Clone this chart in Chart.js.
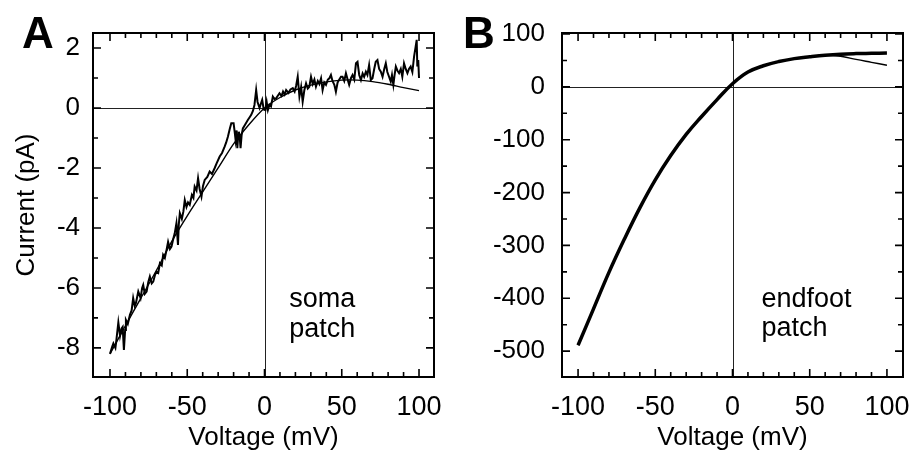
<!DOCTYPE html>
<html lang="en">
<head>
<meta charset="utf-8" />
<script src="https://cdn.jsdelivr.net/npm/chart.js@4.4.1/dist/chart.umd.min.js"></script>
<title>Current-voltage relations</title>
<style>
  body { margin: 0; background: #fff; }
  #wrap { position: relative; width: 912px; height: 453px; }
  canvas { position: absolute; top: 0; }
</style>
</head>
<body>
<div id="wrap">
  <canvas id="graficoA" width="456" height="453" style="left:0"></canvas>
  <canvas id="graficoB" width="456" height="453" style="left:456px"></canvas>
</div>
<script>
// panel A, soma patch: raw trace (mV, pA)
const somaPts = [
  [-100,-8.2],[-98.5,-7.95],[-97.8,-7.85],[-96.5,-8.0],[-96,-7.8],[-94.6,-7.15],[-93.5,-7.6],[-92.5,-7.35],
  [-91.8,-7.3],[-91,-8.07],[-90.2,-7.4],[-89.7,-7.07],[-88.5,-7.2],[-87.1,-6.9],[-86,-6.75],[-85,-6.34],
  [-84,-6.6],[-83.2,-6.5],[-81.7,-6.12],[-80.2,-6.34],[-79.2,-6.0],[-78.5,-5.9],[-77.5,-6.2],[-76.3,-6.12],
  [-75.2,-5.8],[-74.2,-5.62],[-73,-5.85],[-72,-5.79],[-70.8,-5.55],[-69.9,-5.46],[-68.8,-5.5],[-67.7,-5.18],
  [-66.5,-5.25],[-65.6,-4.9],[-64.5,-5.0],[-63.4,-4.73],[-62.4,-4.46],[-61.2,-4.7],[-60.2,-4.62],[-59,-4.35],
  [-58.1,-4.18],[-57,-3.84],[-56,-4.57],[-55.5,-3.9],[-54.8,-3.51],[-53.5,-3.7],[-52.5,-3.45],[-51.6,-3.07],
  [-50.5,-3.3],[-49.5,-3.15],[-48.4,-3.23],[-47,-2.9],[-46,-3.0],[-45.2,-2.62],[-44,-2.75],[-43,-2.34],
  [-42,-2.7],[-40.8,-2.96],[-39.8,-2.6],[-38.7,-2.4],[-37,-2.3],[-35.5,-2.12],[-34,-2.2],[-32.3,-2.01],
  [-31,-1.85],[-29,-1.62],[-27.5,-1.5],[-25.8,-1.29],[-24.8,-1.15],[-23.7,-0.96],[-22.5,-0.7],[-21.5,-0.51],
  [-20,-0.51],[-19.3,-0.8],[-18.7,-1.07],[-18,-0.75],[-17.6,-1.34],[-17,-0.9],[-16.6,-0.79],[-16,-1.0],
  [-15.5,-1.34],[-14.8,-0.9],[-14,-0.68],[-12.5,-0.55],[-10.8,-0.4],[-9.5,-0.3],[-8.6,-0.23],[-7.5,-0.1],
  [-6.5,0.1],[-5.4,0.6],[-4.5,0.2],[-3.2,0.0],[-2.3,0.15],[-1.5,0.27],[-0.5,-0.05],[0.6,-0.07],
  [1.4,0.2],[2.2,-0.07],[3.2,0.1],[4.2,0.05],[5.4,0.38],[6.5,0.3],[7.5,0.32],[8.5,0.4],
  [9.7,0.49],[11,0.4],[12,0.55],[13,0.45],[14,0.6],[15.5,0.5],[16.8,0.62],[18.3,0.66],
  [19.5,0.55],[20.5,0.75],[21.5,1.04],[22.6,0.38],[23.7,0.7],[24.7,0.21],[25.8,0.6],[26.9,0.82],
  [28,0.65],[29,0.71],[30.1,1.04],[31.2,0.8],[32.3,0.95],[33.3,0.71],[34.5,0.9],[35.5,0.8],
  [36.6,0.99],[37.6,0.6],[38.7,0.85],[39.8,0.77],[41,0.95],[42,0.99],[43,1.1],[44,0.9],
  [45.2,0.77],[46.2,0.54],[47.3,0.85],[48.4,0.95],[49.5,1.04],[50.5,1.04],[51.6,0.9],[52.7,1.16],
  [53.8,0.95],[54.8,0.77],[56,1.0],[57,1.1],[58.1,0.95],[59.2,1.49],[60.2,1.54],[61.3,1.1],
  [62.4,0.93],[63.5,1.15],[64.5,1.04],[65.6,1.21],[66.6,1.1],[67.7,1.43],[68.8,0.93],[69.9,0.99],
  [71,1.3],[72,1.54],[73.1,1.6],[74.2,1.3],[75.3,1.21],[76.4,1.04],[77.5,1.3],[78.5,1.49],
  [79.5,1.2],[80.6,1.04],[81.7,0.88],[82.5,1.1],[83.4,0.77],[84.2,1.1],[85,1.38],[86,1.25],
  [87.1,1.16],[88.2,1.3],[89.2,1.04],[90.3,1.49],[91.4,1.3],[92.5,1.16],[93.5,1.3],[94.6,1.38],
  [95.7,1.2],[96.8,1.71],[97.8,2.04],[98.5,2.27],[98.9,1.38],[99.5,1.6],[100,1.0]
];
// fitted curve, panel A
const fitVolt = [-100,-90,-80,-70,-60,-50,-40,-30,-20,-10,0,10,20,30,40,50,60,70,80,90,100];
const somaFit = [-8.2,-7.26,-6.34,-5.42,-4.45,-3.6,-2.8,-2.0,-1.2,-0.55,0.0,0.35,0.6,0.76,0.87,0.93,0.93,0.88,0.79,0.68,0.58];

// panel B, endfoot patch (pA)
const footVolt = [-100,-90,-80,-70,-60,-50,-40,-30,-20,-10,0,10,20,30,40,50,60,70,80,90,100];
const footCurr = [-489,-420,-351,-288,-229,-176,-130,-90,-56,-24,6,28,40,48,53.5,57,60,62,63,63.5,64];
const footFit  = [-489,-420,-351,-288,-229,-176,-130,-90,-56,-24,6,28,40,48,53.5,57,60,58,52,46.5,41];

const ticksX = [-100, -50, 0, 50, 100];
const ticksA = [-8, -6, -4, -2, 0, 2];
const ticksB = [-500, -400, -300, -200, -100, 0, 100];

const fuente = "'Liberation Sans', Arial, Helvetica, sans-serif";

const marco = {
  id: 'marco',
  beforeDatasetsDraw(chart) {
    const {ctx, chartArea: a, scales: {x, y}} = chart;
    const x0 = Math.round(x.getPixelForValue(0)) + 0.5;
    const y0 = Math.round(y.getPixelForValue(0)) + 0.5;
    ctx.save();
    ctx.strokeStyle = '#222';
    ctx.lineWidth = 1;
    ctx.beginPath();
    ctx.moveTo(a.left, y0); ctx.lineTo(a.right, y0);
    ctx.moveTo(x0, a.top); ctx.lineTo(x0, a.bottom);
    ctx.stroke();
    ctx.restore();
  },
  afterDraw(chart, args, o) {
    const {ctx, chartArea: a, scales: {x, y}} = chart;
    ctx.save();
    ctx.strokeStyle = '#000';
    ctx.lineWidth = 1.6;
    ctx.beginPath();
    for (let i = -10; i <= 10; i++) {
      const px = x.getPixelForValue(i * 10);
      const len = i % 5 === 0 ? 8 : 5;
      ctx.moveTo(px, a.bottom); ctx.lineTo(px, a.bottom - len);
      ctx.moveTo(px, a.top); ctx.lineTo(px, a.top + len);
    }
    for (let v = o.yMinor[0]; v <= o.yMinor[1]; v += o.yMinor[2]) {
      const py = y.getPixelForValue(v);
      const len = v % o.yMajor === 0 ? 8 : 5;
      ctx.moveTo(a.left, py); ctx.lineTo(a.left + len, py);
      ctx.moveTo(a.right, py); ctx.lineTo(a.right - len, py);
    }
    ctx.stroke();
    ctx.lineWidth = 2;
    ctx.strokeRect(a.left, a.top, a.right - a.left, a.bottom - a.top);

    ctx.fillStyle = '#000';
    ctx.textBaseline = 'alphabetic';
    ctx.textAlign = 'left';
    ctx.font = 'bold 44px ' + fuente;
    ctx.fillText(o.letra, o.letraX, 48);
    ctx.font = '27px ' + fuente;
    o.nota.forEach((t, i) => {
      ctx.fillText(t, x.getPixelForValue(o.notaX), y.getPixelForValue(o.notaY[i]));
    });
    ctx.restore();
  }
};

function opciones(cfg) {
  return {
    responsive: false,
    animation: false,
    devicePixelRatio: 1,
    layout: { padding: { top: 33, right: cfg.derecha, left: 0, bottom: 0 } },
    plugins: {
      legend: { display: false },
      tooltip: { enabled: false },
      marco: cfg.marco
    },
    elements: { point: { radius: 0 } },
    scales: {
      x: {
        type: 'linear', min: cfg.xmin, max: cfg.xmax,
        grid: { display: false, drawTicks: false }, border: { display: false },
        afterBuildTicks: s => { s.ticks = ticksX.map(v => ({ value: v })); },
        afterFit: s => { s.height = 76; s.paddingLeft = 0; s.paddingRight = 0; },
        ticks: { color: '#000', padding: 14, font: { family: fuente, size: 27 } },
        title: { display: true, text: 'Voltage (mV)', color: '#000', padding: { top: 0, bottom: 0 },
                 font: { family: fuente, size: 26 } }
      },
      y: {
        type: 'linear', min: cfg.ymin, max: cfg.ymax,
        grid: { display: false, drawTicks: false }, border: { display: false },
        afterBuildTicks: s => { s.ticks = cfg.yticks.map(v => ({ value: v })); },
        afterFit: s => { s.width = cfg.izquierda; s.paddingTop = 0; s.paddingBottom = 0; },
        ticks: { color: '#000', padding: cfg.ypad, font: { family: fuente, size: 26 } },
        title: { display: cfg.ytitulo !== '', text: cfg.ytitulo, color: '#000', padding: { top: 11, bottom: 0 },
                 font: { family: fuente, size: 26 } }
      }
    }
  };
}

new Chart(document.getElementById('graficoA'), {
  type: 'line',
  data: {
    datasets: [
      { data: somaPts.map(p => ({ x: p[0], y: p[1] })), borderColor: '#000', borderWidth: 2, tension: 0 },
      { data: fitVolt.map((v, i) => ({ x: v, y: somaFit[i] })), borderColor: '#000', borderWidth: 1.4, tension: 0.3 }
    ]
  },
  options: opciones({
    xmin: -111, xmax: 109.7, ymin: -8.97, ymax: 2.5, yticks: ticksA,
    izquierda: 93, derecha: 22, ypad: 13, ytitulo: 'Current (pA)',
    marco: { letra: 'A', letraX: 22, yMinor: [-8, 2, 1], yMajor: 2,
             nota: ['soma', 'patch'], notaX: 16, notaY: [-6.65, -7.62] }
  }),
  plugins: [marco]
});

new Chart(document.getElementById('graficoB'), {
  type: 'line',
  data: {
    datasets: [
      { data: footVolt.map((v, i) => ({ x: v, y: footCurr[i] })), borderColor: '#000', borderWidth: 3.5, tension: 0.4 },
      { data: footVolt.map((v, i) => ({ x: v, y: footFit[i] })), borderColor: '#000', borderWidth: 1.4, tension: 0.4 }
    ]
  },
  options: opciones({
    xmin: -110.4, xmax: 110.4, ymin: -549, ymax: 102, yticks: ticksB,
    izquierda: 106, derecha: 9, ypad: 17, ytitulo: '',
    marco: { letra: 'B', letraX: 7, yMinor: [-500, 100, 50], yMajor: 100,
             nota: ['endfoot', 'patch'], notaX: 18.7, notaY: [-417, -471] }
  }),
  plugins: [marco]
});
</script>
</body>
</html>
